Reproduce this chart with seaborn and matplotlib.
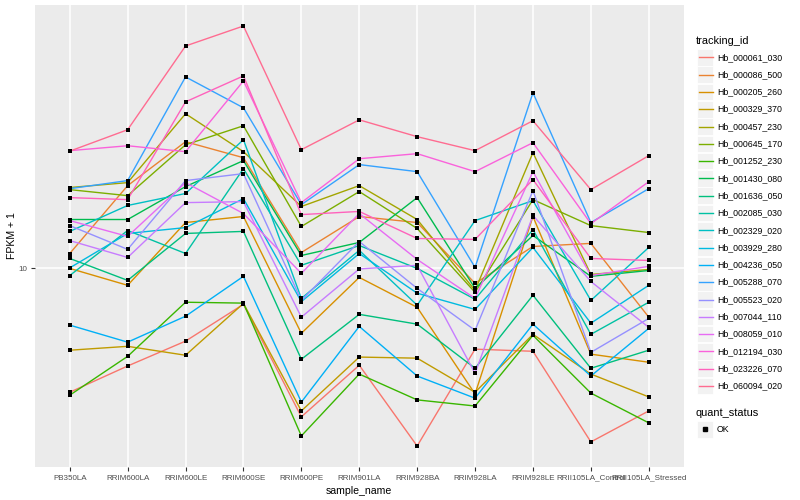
import matplotlib
matplotlib.use("Agg")
import matplotlib.pyplot as plt
from matplotlib.lines import Line2D
from matplotlib.patches import Rectangle
from matplotlib.ticker import NullLocator, FixedLocator, FixedFormatter
import numpy as np
import pandas as pd
import seaborn as sns

# ---------------- data ----------------
samples = ["PB350LA", "RRIM600LA", "RRIM600LE", "RRIM600SE", "RRIM600PE",
           "RRIM901LA", "RRIM928BA", "RRIM928LA", "RRIM928LE",
           "RRII105LA_Control", "RRII105LA_Stressed"]

genes = ["Hb_000061_030", "Hb_000086_500", "Hb_000205_260", "Hb_000329_370",
         "Hb_000457_230", "Hb_000645_170", "Hb_001252_230", "Hb_001430_080",
         "Hb_001636_050", "Hb_002085_030", "Hb_002329_020", "Hb_003929_280",
         "Hb_004236_050", "Hb_005288_070", "Hb_005523_020", "Hb_007044_110",
         "Hb_008059_010", "Hb_012194_030", "Hb_023226_070", "Hb_060094_020"]

# FPKM + 1 per sample (order of `samples`)
hb_000061_030 = [6.21, 6.87, 7.56, 8.71, 5.65, 6.89, 5.05, 7.33, 7.27, 5.13, 5.78]
hb_000086_500 = [10.59, 13.75, 16.28, 15.31, 10.63, 12.21, 11.93, 9.44, 10.88, 11.01, 8.29]
hb_000205_260 = [10.00, 9.37, 11.93, 12.21, 7.79, 9.66, 8.61, 6.17, 12.21, 7.19, 6.97]
hb_000329_370 = [7.30, 7.41, 7.16, 8.74, 5.78, 7.11, 7.08, 6.21, 7.76, 6.66, 6.10]
hb_000457_230 = [13.65, 13.91, 18.13, 15.67, 12.69, 13.75, 12.07, 9.19, 15.61, 9.77, 9.96]
hb_000645_170 = [13.54, 13.23, 16.09, 17.31, 11.75, 13.44, 11.66, 9.12, 13.03, 11.79, 11.48]
hb_001252_230 = [6.14, 7.13, 8.78, 8.75, 5.25, 6.66, 6.03, 5.89, 7.73, 6.19, 5.52]
hb_001430_080 = [12.07, 12.07, 13.70, 15.14, 10.51, 11.05, 13.13, 9.26, 11.35, 9.70, 9.92]
hb_001636_050 = [10.39, 9.55, 11.44, 11.53, 7.05, 8.38, 8.07, 6.81, 9.02, 6.81, 7.30]
hb_002085_030 = [9.73, 11.57, 10.59, 14.68, 10.12, 10.92, 10.00, 8.88, 11.61, 7.76, 8.78]
hb_002329_020 = [11.53, 12.74, 13.34, 16.41, 8.91, 10.72, 8.68, 12.02, 12.98, 8.84, 10.84]
hb_003929_280 = [10.02, 11.44, 11.70, 13.08, 8.80, 10.59, 9.09, 8.54, 10.84, 8.10, 9.37]
hb_004236_050 = [8.04, 7.53, 8.32, 9.70, 5.98, 8.00, 6.61, 6.07, 8.07, 6.61, 7.94]
hb_005288_070 = [13.59, 14.02, 20.89, 18.55, 12.78, 14.91, 14.51, 10.04, 19.65, 11.93, 13.59]
hb_005523_020 = [11.79, 10.76, 14.02, 14.40, 8.84, 11.09, 9.26, 7.88, 13.49, 7.24, 8.25]
hb_007044_110 = [11.13, 10.43, 12.88, 12.93, 8.29, 9.98, 10.12, 6.68, 12.26, 9.51, 7.97]
hb_008059_010 = [12.02, 11.31, 13.91, 12.35, 9.81, 12.35, 10.35, 8.91, 14.51, 9.73, 10.08]
hb_012194_030 = [15.73, 16.03, 15.67, 20.57, 12.88, 15.25, 15.55, 14.51, 16.22, 11.88, 13.96]
hb_023226_070 = [13.13, 13.03, 18.98, 20.97, 12.30, 12.45, 11.22, 11.18, 14.07, 10.39, 10.31]
hb_060094_020 = [15.70, 17.05, 23.53, 25.41, 15.79, 17.71, 16.60, 15.73, 17.65, 13.54, 15.43]

series = [hb_000061_030, hb_000086_500, hb_000205_260, hb_000329_370,
          hb_000457_230, hb_000645_170, hb_001252_230, hb_001430_080,
          hb_001636_050, hb_002085_030, hb_002329_020, hb_003929_280,
          hb_004236_050, hb_005288_070, hb_005523_020, hb_007044_110,
          hb_008059_010, hb_012194_030, hb_023226_070, hb_060094_020]

quant_status = "OK"

# ggplot2 default hue palette for 20 levels
colors = ["#F8766D", "#EA8331", "#D89000", "#C09B00", "#A3A500", "#7CAE00",
          "#39B600", "#00BB4E", "#00BF7D", "#00C1A3", "#00BFC4", "#00BAE0",
          "#00B0F6", "#35A2FF", "#9590FF", "#C77CFF", "#E76BF3", "#FA62DB",
          "#FF62BC", "#FF6C91"]

rows = []
for g, vals in zip(genes, series):
    for s, v in zip(samples, vals):
        rows.append({"tracking_id": g, "sample_name": s, "fpkm": v,
                     "quant_status": quant_status})
df = pd.DataFrame(rows)
df["sample_name"] = pd.Categorical(df["sample_name"], categories=samples, ordered=True)
df["x"] = df["sample_name"].cat.codes

# ---------------- figure ----------------
W, H = 800, 500
fig = plt.figure(figsize=(W / 100, H / 100), dpi=100)
FONT = ["Liberation Sans", "DejaVu Sans"]
plt.rcParams["font.family"] = FONT

L, R, T, B = 35, 683.5, 5, 467
ax = fig.add_axes([L / W, 1 - B / H, (R - L) / W, (B - T) / H])
ax.set_facecolor("#EBEBEB")

sns.lineplot(data=df, x="x", y="fpkm", hue="tracking_id", hue_order=genes,
             palette=colors, estimator=None, sort=False, linewidth=1.0,
             legend=False, ax=ax, zorder=2)
sns.scatterplot(data=df, x="x", y="fpkm", color="black", marker="s", s=7,
                linewidth=0, legend=False, ax=ax, zorder=3)

ax.set_yscale("log")
lo, hi = np.log10(df["fpkm"].min()), np.log10(df["fpkm"].max())
pad = 0.05 * (hi - lo)
ax.set_ylim(10 ** (lo - pad), 10 ** (hi + pad))
ax.set_xlim(-0.6, len(samples) - 1 + 0.6)

ax.yaxis.set_major_locator(FixedLocator([10]))
ax.yaxis.set_major_formatter(FixedFormatter(["10"]))
ax.yaxis.set_minor_locator(NullLocator())
ax.set_xticks(range(len(samples)))
ax.set_xticklabels(samples)

ax.grid(True, which="major", color="white", linewidth=1.1)
ax.set_axisbelow(True)
for sp in ax.spines.values():
    sp.set_visible(False)
ax.tick_params(axis="both", which="major", length=3, width=0.8, color="#333333",
               labelcolor="#4D4D4D", labelsize=5.8, pad=2.5)

ax.set_xlabel("sample_name", fontsize=7.6, color="black", labelpad=3)
ax.set_ylabel("FPKM + 1", fontsize=7.6, color="black")
ax.yaxis.set_label_coords(-0.027, 0.5)

# ---------------- legend (ggplot style) ----------------
def fx(px):
    return px / W

def fy(py):
    return 1 - py / H

fig.text(fx(696), fy(40.5), "tracking_id", fontsize=7.9, ha="left", va="center")
row0, step = 57.3, 17.3
for i, (g, c) in enumerate(zip(genes, colors)):
    yc = row0 + i * step
    fig.add_artist(Rectangle((fx(696.5), fy(yc + 8.3)), 16.5 / W, 16.6 / H,
                             transform=fig.transFigure, facecolor="#F2F2F2",
                             edgecolor="white", linewidth=0.6))
    fig.add_artist(Line2D([fx(698.5), fx(712.5)], [fy(yc), fy(yc)],
                          transform=fig.transFigure, color=c, linewidth=1.0))
    fig.text(fx(717), fy(yc), g, fontsize=6.3, ha="left", va="center")

fig.text(fx(696), fy(412.5), "quant_status", fontsize=7.9, ha="left", va="center")
yc = 429.3
fig.add_artist(Rectangle((fx(696.5), fy(yc + 8.3)), 16.5 / W, 16.6 / H,
                         transform=fig.transFigure, facecolor="#F2F2F2",
                         edgecolor="white", linewidth=0.6))
fig.add_artist(Line2D([fx(705)], [fy(yc)], transform=fig.transFigure,
                      color="black", marker="s", markersize=2.6, linewidth=0))
fig.text(fx(717), fy(yc), quant_status, fontsize=6.3, ha="left", va="center")

fig.savefig("out.png", dpi=100, facecolor="white")
